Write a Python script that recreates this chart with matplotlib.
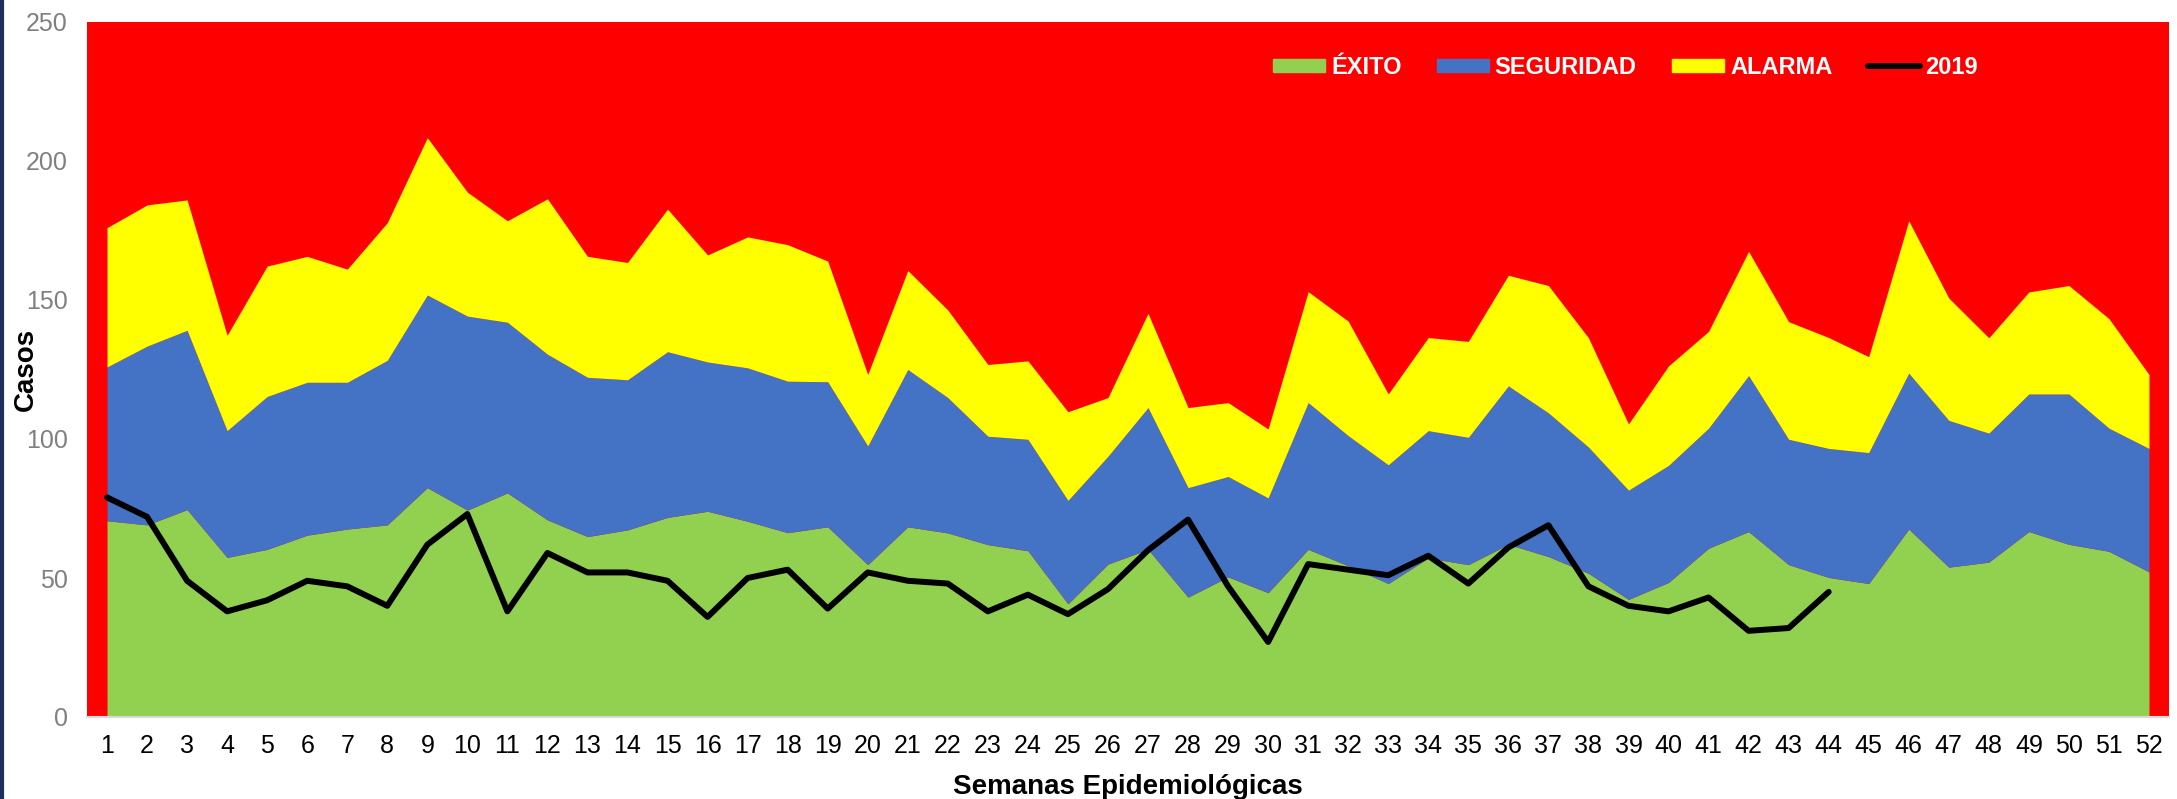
import numpy as np
import matplotlib
matplotlib.use("Agg")
import matplotlib.pyplot as plt
from matplotlib.patches import Patch
from matplotlib.lines import Line2D

plt.rcParams['font.family'] = ['Liberation Sans', 'DejaVu Sans']

semanas = list(range(1, 53))

# upper limits of each zone
exito = [70.6, 69.1, 74.6, 57.4, 60.3, 65.4, 67.6, 69.1, 82.5, 74.4, 80.6, 70.9,
         64.9, 67.3, 71.8, 74.0, 70.4, 66.3, 68.4, 54.8, 68.4, 66.2, 62.0, 59.8, 40.7, 55.0,
         60.3, 43.1, 50.4, 44.7, 60.3, 54.4, 48.0, 57.2, 54.8, 62.1, 57.7, 51.7, 42.3,
         48.4, 60.7, 66.7, 54.8, 50.2, 48.0, 67.6, 53.9, 55.7, 66.7, 62.1, 59.6, 52.2]
seguridad = [125.9, 133.4, 139.1, 103.0, 115.3, 120.4, 120.4, 128.3, 151.8, 144.2, 142.0, 130.5,
             122.2, 121.3, 131.4, 127.7, 125.6, 120.8, 120.6, 97.5, 125.0, 114.9, 101.0, 99.9, 77.9, 93.8,
             111.3, 82.5, 86.5, 78.8, 113.1, 101.2, 90.7, 103.0, 100.6, 119.1, 109.4, 97.1, 81.6,
             90.5, 103.9, 122.8, 99.9, 96.6, 95.1, 123.7, 106.7, 102.1, 116.2, 116.2, 103.9, 96.6]
alarma = [176.0, 184.2, 186.0, 137.3, 162.2, 165.7, 161.1, 177.8, 208.4, 188.8, 178.5, 186.4,
          165.7, 163.5, 182.7, 166.2, 172.7, 169.9, 164.0, 123.2, 160.6, 146.4, 126.8, 128.1, 109.8, 114.9,
          145.2, 111.3, 113.1, 103.6, 153.0, 142.4, 116.2, 136.5, 135.1, 158.9, 155.2, 136.4, 105.4,
          126.3, 138.7, 167.5, 142.2, 136.5, 129.6, 178.5, 150.7, 136.4, 152.9, 155.2, 143.3, 123.2]
casos_2019 = [79, 72, 49, 38, 42, 49, 47, 40, 62, 73, 38, 59,
              52, 52, 49, 36, 50, 53, 39, 52, 49, 48, 38, 44, 37, 46,
              60, 71, 47, 27, 55, 53, 51, 58, 48, 61, 69, 47, 40,
              38, 43, 31, 32, 45]

c_exito = '#92D050'
c_seg = '#4472C4'
c_alarma = '#FFFF00'
c_epidemia = '#FF0000'

fig = plt.figure(figsize=(21.77, 7.99), dpi=100)
ax = fig.add_axes([87 / 2177, 1 - 717 / 799, (2169 - 87) / 2177, (717 - 22) / 799])
ax.set_facecolor(c_epidemia)

ax.fill_between(semanas, 0, exito, color=c_exito, lw=0)
ax.fill_between(semanas, exito, seguridad, color=c_seg, lw=0)
ax.fill_between(semanas, seguridad, alarma, color=c_alarma, lw=0)
ax.plot(semanas[:len(casos_2019)], casos_2019, color='black', lw=4.3, solid_capstyle='round')

ax.set_xlim(0.5, 52.5)
ax.set_ylim(0, 250)
ax.set_xticks(semanas)
ax.set_yticks(range(0, 251, 50))
ax.tick_params(axis='x', length=0, labelsize=18, colors='black', pad=12)
ax.tick_params(axis='y', length=0, labelsize=18, labelcolor='#808080', pad=14)
for s in ['top', 'right', 'left']:
    ax.spines[s].set_visible(False)
ax.spines['bottom'].set_color('#D9D9D9')
ax.spines['bottom'].set_linewidth(1.5)

ax.set_ylabel('Casos', fontsize=20, fontweight='bold')
ax.yaxis.set_label_coords(-0.023, 0.5)
ax.set_xlabel('Semanas Epidemiológicas', fontsize=20, fontweight='bold', labelpad=12)

handles = [Patch(color=c_exito, label='ÉXITO'),
           Patch(color=c_seg, label='SEGURIDAD'),
           Patch(color=c_alarma, label='ALARMA'),
           Line2D([0], [0], color='black', lw=4.3, solid_capstyle='round', label='2019')]
leg = ax.legend(handles=handles, ncol=4, frameon=False, loc='center',
                bbox_to_anchor=(0.739, 0.935), handlelength=2.2, handleheight=0.5,
                handletextpad=0.25, columnspacing=1.5,
                prop={'weight': 'bold', 'size': 17})
for t in leg.get_texts():
    t.set_color('white')

fig.add_artist(Line2D([0.0007, 0.0007], [0, 1], color='#1F2D5A', lw=3, transform=fig.transFigure))

fig.savefig('out.png', dpi=100)
